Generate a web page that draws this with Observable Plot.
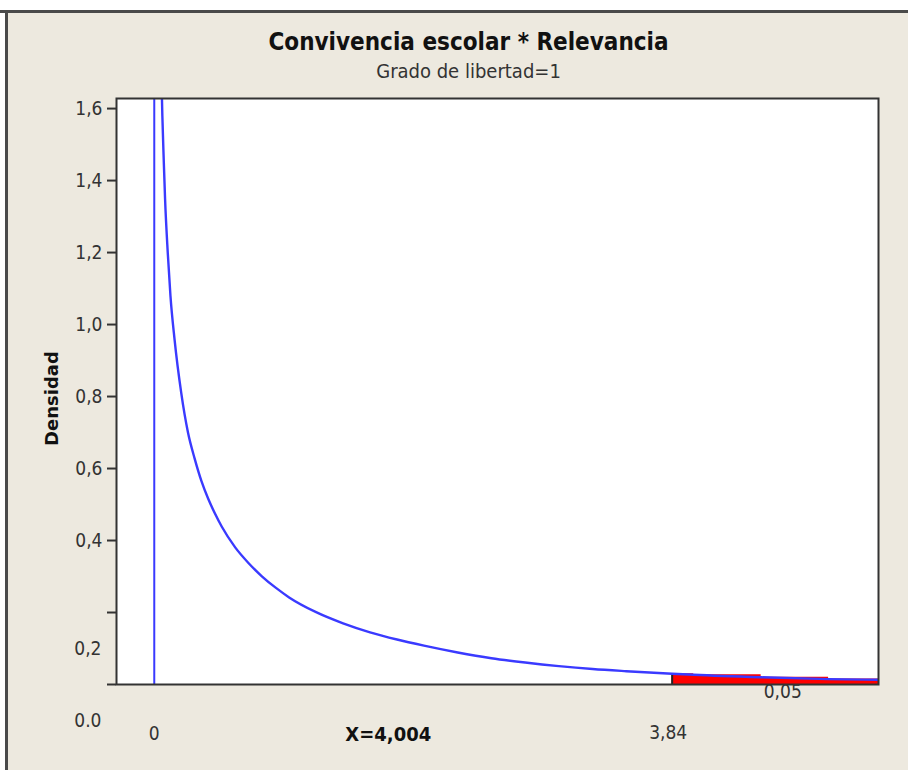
<!DOCTYPE html>
<html>
<head>
<meta charset="utf-8">
<script src="https://cdn.jsdelivr.net/npm/d3@7"></script>
<script src="https://cdn.jsdelivr.net/npm/@observablehq/plot@0.6"></script>
<style>
  html, body { margin: 0; padding: 0; background: #fff; }
  #chart svg { display: block; }
</style>
</head>
<body>
<div id="chart"></div>
<script>
// Curve: x (chi-square value) and density
const curveX = [0.055, 0.06, 0.07, 0.08, 0.1, 0.12, 0.15, 0.2, 0.25, 0.3, 0.35, 0.4, 0.45, 0.5, 0.6, 0.7, 0.8, 0.9, 1.0, 1.2, 1.4, 1.6, 1.8, 2.0, 2.25, 2.5, 2.75, 3.0, 3.25, 3.5, 3.84, 4.0, 4.5, 5.0, 5.37];
const curveY = [1.66, 1.58, 1.46, 1.35, 1.20, 1.08, 0.96, 0.81, 0.70, 0.627, 0.565, 0.516, 0.475, 0.439, 0.381, 0.337, 0.300, 0.269, 0.242, 0.201, 0.170, 0.145, 0.125, 0.108, 0.089, 0.073, 0.061, 0.051, 0.043, 0.037, 0.030, 0.027, 0.020, 0.015, 0.013];
const criticalValue = 3.84;
const yTicks = [0, 0.2, 0.4, 0.6, 0.8, 1.0, 1.2, 1.4, 1.6];
const yTickLabels = ["", "", "0,4", "0,6", "0,8", "1,0", "1,2", "1,4", "1,6"];
const extraYLabels = [{v: 0.1, t: "0,2"}, {v: -0.1, t: "0.0"}];
const titleText = "Convivencia escolar * Relevancia";
const subtitleText = "Grado de libertad=1";
const yLabel = "Densidad";
const statLabel = "X=4,004";
const zeroLabel = "0";
const critLabel = "3,84";
const alphaLabel = "0,05";

const curve = curveX.map((x, i) => ({x, y: curveY[i]}));
const tail = curve.filter(d => d.x >= criticalValue);
const critY = curve.find(d => d.x === criticalValue).y;
const FONT = "'DejaVu Sans Condensed', 'Liberation Sans Narrow', 'DejaVu Sans', sans-serif";
const BG = "linear-gradient(to bottom, #fff 0, #fff 10px, #4a4a4a 10px, #4a4a4a 13px, transparent 13px), linear-gradient(to right, #fff 0, #fff 5px, #4a4a4a 5px, #4a4a4a 8px, transparent 8px), #EDE9DF";

const chart = Plot.plot({
  width: 908,
  height: 770,
  marginLeft: 116,
  marginRight: 30,
  marginTop: 98,
  marginBottom: 86,
  style: {fontFamily: FONT, fontSize: "19px", color: "#333", background: BG},
  x: {domain: [-0.28, 5.37], axis: null},
  y: {domain: [0, 1.628], axis: null},
  marks: [
    Plot.frame({fill: "white", stroke: "none"}),
    Plot.areaY(tail, {x: "x", y: "y", fill: "#ff0000", curve: "step-after"}),
    Plot.ruleX([criticalValue], {y1: 0, y2: critY, stroke: "#222", strokeWidth: 2}),
    Plot.ruleX([0], {stroke: "#3a3aff", strokeWidth: 2}),
    Plot.line(curve, {x: "x", y: "y", stroke: "#3a3aff", strokeWidth: 2.4, curve: "monotone-x", clip: true}),
    Plot.frame({stroke: "#333", strokeWidth: 2}),
    Plot.axisY(yTicks, {tickSize: 9, tickPadding: 5, tickFormat: (d, i) => yTickLabels[i], stroke: "#333", strokeWidth: 2, fontSize: 19, fill: "#333"}),
    Plot.text(extraYLabels, {y: "v", text: "t", frameAnchor: "left", dx: -15, textAnchor: "end", fontSize: 19, fill: "#333"}),
    Plot.text([yLabel], {frameAnchor: "left", dx: -64, dy: 7, textAnchor: "middle", rotate: -90, fontWeight: "bold", fontSize: 18, fill: "#111", fontFamily: "'DejaVu Sans', sans-serif"}),
    Plot.text([zeroLabel], {x: 0, frameAnchor: "bottom", dy: 55, fontSize: 19, fill: "#333"}),
    Plot.text([critLabel], {x: criticalValue, frameAnchor: "bottom", dy: 54, dx: -4, fontSize: 19, fill: "#333"}),
    Plot.text([alphaLabel], {x: 4.66, frameAnchor: "bottom", dy: 13, fontSize: 19, fill: "#333"}),
    Plot.text([statLabel], {x: 1.735, frameAnchor: "bottom", dy: 56, fontWeight: "bold", fontSize: 20, fill: "#111"}),
    Plot.text([titleText], {frameAnchor: "top", dx: -29, dy: -66, fontWeight: "bold", fontSize: 24, fill: "#111"}),
    Plot.text([subtitleText], {frameAnchor: "top", dx: -29, dy: -35, fontSize: 20, fill: "#333"})
  ]
});
document.getElementById("chart").appendChild(chart);
</script>
</body>
</html>
